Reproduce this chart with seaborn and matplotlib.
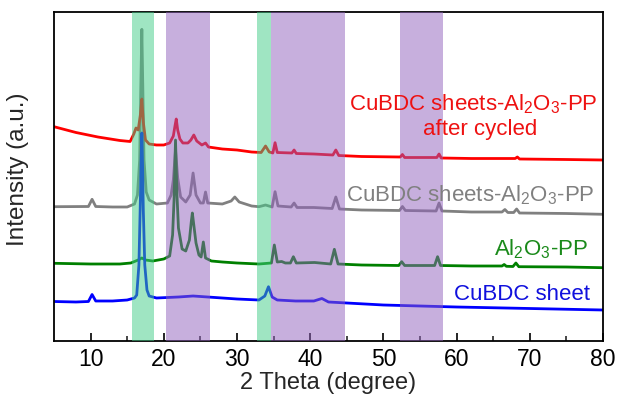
import matplotlib
matplotlib.use("Agg")
import matplotlib.pyplot as plt
import seaborn as sns
import pandas as pd

# ---------------- data ----------------
blue_x = [5, 8, 9.7, 10.2, 10.7, 13, 15, 16.0, 16.3, 16.6, 16.8, 16.9, 17.0, 17.1, 17.2, 17.4, 17.7, 18.0,
          19, 22, 24, 26, 30, 33, 33.8, 34.3, 34.8, 35.5, 38, 40.5, 41.6, 42.5, 45, 50, 60, 70, 80]
blue_y = [39.5, 39, 39.5, 46.5, 40, 40, 41, 43, 46, 76, 141, 181, 208, 176, 131, 76, 51, 45,
          43, 44, 45, 44, 42, 41, 45, 54.3, 44, 41, 40, 40, 42.5, 39, 38, 36, 34, 32.5, 31]

green_x = [5, 10, 14, 15.5, 16.5, 17.0, 17.5, 18.5, 20, 20.8, 21.2, 21.4, 21.6, 21.8, 22.0, 22.5, 23.0,
           23.5, 23.75, 23.9, 24.1, 24.4, 24.8, 25.1, 25.4, 25.7, 26.5, 28, 30, 33, 34.7, 35.1, 35.5,
           36.1, 36.6, 37.3, 37.7, 38.1, 40.6, 42.8, 43.3, 43.8, 47, 52.1, 52.5, 52.9, 57.0, 57.4, 57.8,
           62, 66.2, 66.5, 66.8, 67.7, 68.1, 68.5, 75, 80]
green_y = [77.7, 77, 77, 78, 81, 83, 81, 80, 82, 85, 106, 141, 201, 146, 113, 92, 90,
           101, 119, 128, 116, 98, 86, 84, 99, 83, 80, 79, 78, 77, 78, 96, 79,
           79.5, 78, 78, 84.3, 78, 78.5, 77, 91.7, 77, 76, 75.5, 79.3, 75.5, 75.5, 84.3, 75.5,
           75, 75, 76.5, 74.7, 74.5, 78, 74.3, 74, 73.3]

gray_x = [5, 9.7, 10.2, 10.7, 13, 15, 16.0, 16.4, 16.7, 16.85, 17.0, 17.15, 17.3, 17.6, 18.0, 19, 20.5,
          21.0, 21.3, 21.6, 21.9, 22.3, 23.0, 23.6, 24.0, 24.4, 25.0, 25.4, 25.7, 26.0, 28, 29.2, 29.7,
          30.3, 32, 33, 33.9, 34.8, 35.2, 35.6, 37.4, 37.8, 38.2, 40.5, 43.0, 43.5, 44.0, 47, 52.2,
          52.6, 53.0, 57.2, 57.6, 58.0, 62, 66.2, 66.6, 67.0, 67.8, 68.2, 68.6, 75, 80]
gray_y = [134.3, 134.5, 141.7, 134.5, 134, 134, 137, 146, 181, 251, 311.7, 246, 181, 149, 141, 137, 138,
          146, 161, 191, 163, 144, 139, 146, 168, 146, 138, 138, 149, 138, 137, 140, 144,
          139, 135, 134.3, 136, 134, 149.3, 135, 134, 138, 133.5, 133.5, 132.5, 144, 132, 131, 130.5,
          134.5, 130.5, 130, 138, 130, 129, 129, 131.5, 128.5, 128.5, 132, 128, 127.5, 126.7]

red_x = [5, 8, 11, 14, 15.4, 15.9, 16.2, 16.5, 16.8, 17.0, 17.2, 17.5, 18.0, 19, 20, 20.8, 21.3, 21.55,
         21.7, 21.9, 22.2, 22.6, 23.3, 23.7, 24.1, 24.5, 25.2, 25.7, 26.1, 28, 30, 32, 33.3, 33.9,
         34.4, 34.9, 35.2, 35.5, 37.5, 37.8, 38.1, 40.5, 43.1, 43.5, 43.9, 47, 52.3, 52.6, 52.9,
         57.3, 57.6, 57.9, 62, 68.0, 68.3, 68.6, 75, 80]
red_y = [214.3, 208.5, 204, 200.5, 199.5, 207, 213, 211, 226, 242, 219, 201, 197, 196, 196, 198, 205, 216,
         222, 211, 202, 198, 198, 201, 206, 200, 196, 198, 194, 192, 191, 189, 188.5, 195,
         189, 188, 198.3, 188.5, 188, 191, 187.5, 187, 186, 191, 185.5, 184.5, 184, 186.5, 183.5,
         183.5, 187, 183, 182.5, 182.5, 184, 182, 181.5, 181]

series_names = ["CuBDC sheets-Al2O3-PP", "Al2O3-PP", "CuBDC sheets-Al2O3-PP after cycled", "CuBDC sheet"]
series_x = [gray_x, green_x, red_x, blue_x]
series_y = [gray_y, green_y, red_y, blue_y]
line_colors = ["#808080", "#008000", "#ff0000", "#0000ff"]

green_bands = [(15.7, 18.6), (32.8, 34.7)]
purple_bands = [(20.3, 26.3), (34.7, 44.8), (52.2, 58.2)]

xticks_major = [10, 20, 30, 40, 50, 60, 70, 80]
xticks_minor = [15, 25, 35, 45, 55, 65, 75]

# ---------------- styling ----------------
sns.set_theme(style="ticks")
plt.rcParams["font.family"] = ["Liberation Sans", "DejaVu Sans"]
plt.rcParams["mathtext.fontset"] = "custom"
plt.rcParams["mathtext.rm"] = "Liberation Sans"
plt.rcParams["mathtext.it"] = "Liberation Sans:italic"
plt.rcParams["mathtext.default"] = "regular"

rows = []
for name, xs, ys in zip(series_names, series_x, series_y):
    for i, (a, b) in enumerate(zip(xs, ys)):
        rows.append({"series": name, "order": i, "theta": a, "intensity": b})
df = pd.DataFrame(rows)

fig = plt.figure(figsize=(6.21, 4.0), dpi=100)
ax = fig.add_axes([54 / 621, 59 / 400, 549 / 621, 329 / 400])

sns.lineplot(data=df, x="theta", y="intensity", hue="series", hue_order=series_names,
             palette=line_colors, sort=False, estimator=None, units="series",
             linewidth=2.0, legend=False, ax=ax)

for a, b in green_bands:
    ax.axvspan(a, b, color="#41cd87", alpha=0.5, lw=0, zorder=5)
for a, b in purple_bands:
    ax.axvspan(a, b, color="#9161bd", alpha=0.5, lw=0, zorder=5)

ax.set_xlim(5, 80)
ax.set_ylim(0, 329)
ax.set_xticks(xticks_major)
ax.set_xticks(xticks_minor, minor=True)
ax.set_yticks([])
ax.tick_params(axis="x", which="major", direction="in", length=6, width=1.2,
               labelsize=16.5, pad=5, colors="black")
ax.tick_params(axis="x", which="minor", direction="in", length=3.5, width=1.2)
for s in ax.spines.values():
    s.set_visible(True)
    s.set_linewidth(1.3)
    s.set_color("black")

ax.set_xlabel("2 Theta (degree)", fontsize=17, labelpad=1)
ax.set_ylabel("Intensity (a.u.)", fontsize=17.5, labelpad=10)
ax.yaxis.set_label_coords(-0.045, 0.523)

fs = 16
ax.text(79.3, 231, "CuBDC sheets-Al$_2$O$_3$-PP", color="#ee1111", fontsize=fs, ha="right", va="baseline", zorder=6)
ax.text(63.2, 206, "after cycled", color="#ee1111", fontsize=fs, ha="center", va="baseline", zorder=6)
ax.text(78.8, 140, "CuBDC sheets-Al$_2$O$_3$-PP", color="#808080", fontsize=fs, ha="right", va="baseline", zorder=6)
ax.text(78.0, 86, "Al$_2$O$_3$-PP", color="#1a8a1a", fontsize=fs, ha="right", va="baseline", zorder=6)
ax.text(78.2, 41, "CuBDC sheet", color="#1010dd", fontsize=fs, ha="right", va="baseline", zorder=6)

fig.savefig("out.png", dpi=100)
